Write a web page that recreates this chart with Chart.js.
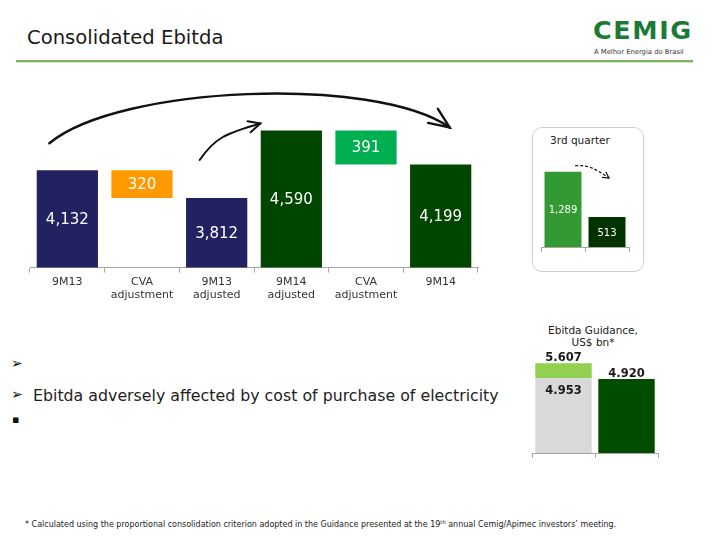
<!DOCTYPE html>
<html>
<head>
<meta charset="utf-8">
<script src="https://cdn.jsdelivr.net/npm/chart.js@4.4.1/dist/chart.umd.min.js"></script>
<style>
  body { margin: 0; width: 720px; height: 540px; background: #fff; position: relative; overflow: hidden;
         font-family: 'DejaVu Sans', Verdana, sans-serif; color: #222; }
  .abs { position: absolute; white-space: nowrap; line-height: 1; }
  #title { left: 27px; top: 28px; font-size: 19.6px; color: #1a1a1a; }
  #rule { left: 16px; top: 60px; width: 677px; height: 2px; background: #7db35f; border-bottom: 1px solid #d3e6c6; }
  #logo { left: 593px; top: 19px; font-size: 24px; font-weight: 900; letter-spacing: 1.5px; color: #1b7a35;
          transform: scaleX(1.06); transform-origin: left top; }
  #logo-sub { left: 594px; top: 48.5px; font-size: 6.8px; color: #333; }
  #qbox { left: 532px; top: 127px; width: 112px; height: 145px; box-sizing: border-box;
          border: 1px solid #cfcfcf; border-radius: 10px; }
  #qtitle { left: 532px; top: 134.5px; width: 96px; text-align: center; font-size: 10.5px; color: #222; }
  #gtitle { left: 543px; top: 324.8px; width: 100px; text-align: center; font-size: 10.5px; line-height: 11.7px; color: #222; }
  .bul { font-size: 14px; color: #111; left: 11px; }
  #b1 { top: 356px; }
  #b2 { top: 387px; }
  #b2txt { left: 33px; top: 387.5px; font-size: 15.8px; color: #222; }
  #b3 { top: 414px; font-size: 11px; left: 12px; }
  #foot { left: 25px; top: 520px; font-size: 8px; color: #222; }
  #foot sup { font-size: 5.2px; vertical-align: 3px; }
  canvas { position: absolute; }
  #main { left: 0; top: 80px; }
  #quarter { left: 533px; top: 128px; }
  #guide { left: 520px; top: 348px; }
</style>
</head>
<body>
<div class="abs" id="title">Consolidated Ebitda</div>
<div class="abs" id="rule"></div>
<div class="abs" id="logo">CEMIG</div>
<div class="abs" id="logo-sub">A Melhor Energia do Brasil</div>
<div class="abs" id="qbox"></div>
<div class="abs" id="qtitle">3rd quarter</div>
<div class="abs" id="gtitle">Ebitda Guidance,<br>US$ bn*</div>
<div class="abs bul" id="b1">➢</div>
<div class="abs bul" id="b2">➢</div>
<div class="abs" id="b2txt">Ebitda adversely affected by cost of purchase of electricity</div>
<div class="abs bul" id="b3">▪</div>
<div class="abs" id="foot">* Calculated using the proportional consolidation criterion adopted in the Guidance presented at the 19<sup>th</sup> annual Cemig/Apimec investors’ meeting.</div>

<canvas id="main" width="500" height="230"></canvas>
<canvas id="quarter" width="111" height="143"></canvas>
<canvas id="guide" width="150" height="115"></canvas>

<script>
// ── Données ───────────────────────────────────────────────────
const wfLabels = [['9M13'], ['CVA', 'adjustment'], ['9M13', 'adjusted'], ['9M14', 'adjusted'], ['CVA', 'adjustment'], ['9M14']];
const wfValues = [4132, 320, 3812, 4590, 391, 4199];
const wfIsDelta = [false, true, false, false, true, false];
const wfColors = ['#222262', '#ff9900', '#222262', '#004600', '#00b050', '#004600'];

const quarterLabels = ['3Q13', '3Q14'];
const quarterValues = [1289, 513];
const quarterColors = ['#339933', '#003300'];

const guideLabels = ['Guidance', '9M14'];
const guideRange = [4.953, 5.607];   // fourchette du guidance
const guideActual = [4.920];

Chart.defaults.font.family = "'DejaVu Sans', Verdana, sans-serif";
Chart.defaults.animation = false;

// ── Helpers ───────────────────────────────────────────────────
function drawArrow(ctx, p0, c1, c2, p3, head, spread) {
  ctx.beginPath();
  ctx.moveTo(p0.x, p0.y);
  ctx.bezierCurveTo(c1.x, c1.y, c2.x, c2.y, p3.x, p3.y);
  ctx.stroke();
  ctx.setLineDash([]);
  const a = Math.atan2(p3.y - c2.y, p3.x - c2.x);
  ctx.beginPath();
  ctx.moveTo(p3.x - head * Math.cos(a - spread), p3.y - head * Math.sin(a - spread));
  ctx.lineTo(p3.x, p3.y);
  ctx.lineTo(p3.x - head * Math.cos(a + spread), p3.y - head * Math.sin(a + spread));
  ctx.stroke();
}

function fmt(v) {
  return v.toLocaleString('en-US');
}

// ── Waterfall principal ───────────────────────────────────────
// delta = barre flottante entre le total suivant et le total précédent
const wfData = wfValues.map((v, i) => wfIsDelta[i] ? [wfValues[i + 1], wfValues[i + 1] + v] : [0, v]);

const wfPlugin = {
  id: 'wfDecor',
  afterDatasetsDraw(chart) {
    const { ctx, chartArea } = chart;
    const bars = chart.getDatasetMeta(0).data;
    ctx.save();
    ctx.font = '15px "DejaVu Sans", Verdana, sans-serif';
    ctx.fillStyle = '#ffffff';
    ctx.textAlign = 'center';
    ctx.textBaseline = 'middle';
    bars.forEach((b, i) => {
      const top = Math.max(b.y, chartArea.top);
      const bottom = Math.min(b.base, chartArea.bottom);
      ctx.fillText(fmt(wfValues[i]), b.x, (top + bottom) / 2 + 1);
    });

    ctx.strokeStyle = '#111';
    ctx.lineCap = 'round';
    // grande flèche 9M13 -> 9M14
    ctx.lineWidth = 2.4;
    const s = { x: bars[0].x - 18, y: bars[0].y - 27 };
    const e = { x: bars[5].x + 9, y: bars[5].y - 37 };
    drawArrow(ctx, s, { x: s.x + 70, y: s.y - 58 }, { x: e.x - 75, y: e.y - 52 }, e, 22, 0.4);
    // petite flèche 9M13 ajusté -> 9M14 ajusté
    ctx.lineWidth = 2;
    const s2 = { x: bars[2].x - 17, y: bars[2].y - 38 };
    const e2 = { x: bars[3].x - 31, y: bars[3].y - 7 };
    drawArrow(ctx, s2, { x: s2.x + 15, y: s2.y - 22 }, { x: e2.x - 35, y: e2.y + 10 }, e2, 13, 0.45);
    ctx.restore();
  }
};

new Chart(document.getElementById('main'), {
  type: 'bar',
  data: {
    labels: wfLabels,
    datasets: [{
      data: wfData,
      backgroundColor: wfColors,
      borderWidth: 0,
      categoryPercentage: 1,
      barPercentage: 0.82,
    }],
  },
  options: {
    responsive: false,
    layout: { padding: { left: 30, right: 22, top: 0, bottom: 5 } },
    plugins: { legend: { display: false }, tooltip: { enabled: false } },
    scales: {
      x: {
        border: { color: '#a6a6a6', width: 1 },
        grid: { offset: true, drawOnChartArea: false, tickLength: 5, color: '#a6a6a6' },
        ticks: { color: '#333', font: { size: 11 }, padding: 3, maxRotation: 0 },
      },
      y: { display: false, min: 3010, max: 5172 },
    },
  },
  plugins: [wfPlugin],
});

// ── 3e trimestre ──────────────────────────────────────────────
const quarterPlugin = {
  id: 'quarterDecor',
  afterDatasetsDraw(chart) {
    const { ctx } = chart;
    const bars = chart.getDatasetMeta(0).data;
    ctx.save();
    ctx.font = '10px "DejaVu Sans", Verdana, sans-serif';
    ctx.fillStyle = '#ffffff';
    ctx.textAlign = 'center';
    ctx.textBaseline = 'middle';
    bars.forEach((b, i) => ctx.fillText(fmt(quarterValues[i]), b.x, (b.y + b.base) / 2 + 1));

    ctx.strokeStyle = '#111';
    ctx.lineWidth = 1.2;
    ctx.setLineDash([3, 2]);
    const s = { x: bars[0].x + 12, y: bars[0].y - 6 };
    const e = { x: bars[1].x + 2, y: bars[1].y - 39 };
    drawArrow(ctx, s, { x: s.x + 15, y: s.y - 1 }, { x: e.x - 12, y: e.y - 8 }, e, 7, 0.5);
    ctx.restore();
  }
};

new Chart(document.getElementById('quarter'), {
  type: 'bar',
  data: {
    labels: quarterLabels,
    datasets: [{
      data: quarterValues,
      backgroundColor: quarterColors,
      borderWidth: 0,
      categoryPercentage: 1,
      barPercentage: 0.84,
    }],
  },
  options: {
    responsive: false,
    layout: { padding: { left: 8, right: 15, top: 30, bottom: 19 } },
    plugins: { legend: { display: false }, tooltip: { enabled: false } },
    scales: {
      x: {
        border: { color: '#a6a6a6', width: 1 },
        grid: { offset: true, drawOnChartArea: false, tickLength: 5, color: '#a6a6a6' },
        ticks: { display: false },
      },
      y: { display: false, min: 0, max: 1524 },
    },
  },
  plugins: [quarterPlugin],
});

// ── Guidance ──────────────────────────────────────────────────
const guidePlugin = {
  id: 'guideDecor',
  afterDatasetsDraw(chart) {
    const { ctx } = chart;
    const low = chart.getDatasetMeta(0).data[0];
    const high = chart.getDatasetMeta(1).data[0];
    const real = chart.getDatasetMeta(2).data[1];
    ctx.save();
    ctx.font = 'bold 11.5px "DejaVu Sans", Verdana, sans-serif';
    ctx.fillStyle = '#1a1a1a';
    ctx.textAlign = 'center';
    ctx.textBaseline = 'middle';
    ctx.fillText(guideRange[1].toFixed(3), high.x, high.y - 5.5);
    ctx.fillText(guideRange[0].toFixed(3), low.x, low.y + 13);
    ctx.fillText(guideActual[0].toFixed(3), real.x, real.y - 5.5);
    ctx.restore();
  }
};

new Chart(document.getElementById('guide'), {
  type: 'bar',
  data: {
    labels: guideLabels,
    datasets: [
      { data: [[0, guideRange[0]], null], backgroundColor: '#d9d9d9' },
      { data: [[guideRange[0], guideRange[1]], null], backgroundColor: '#92d050' },
      { data: [null, [0, guideActual[0]]], backgroundColor: '#004d00' },
    ],
  },
  options: {
    responsive: false,
    datasets: { bar: { borderWidth: 0, categoryPercentage: 1, barPercentage: 0.895 } },
    layout: { padding: { left: 12, right: 12, top: 2, bottom: 5 } },
    plugins: { legend: { display: false }, tooltip: { enabled: false } },
    scales: {
      x: {
        stacked: true,
        border: { color: '#a6a6a6', width: 1 },
        grid: { offset: true, drawOnChartArea: false, tickLength: 5, color: '#a6a6a6' },
        ticks: { display: false },
      },
      y: { display: false, min: 1.703, max: 6.188 },
    },
  },
  plugins: [guidePlugin],
});
</script>
</body>
</html>
